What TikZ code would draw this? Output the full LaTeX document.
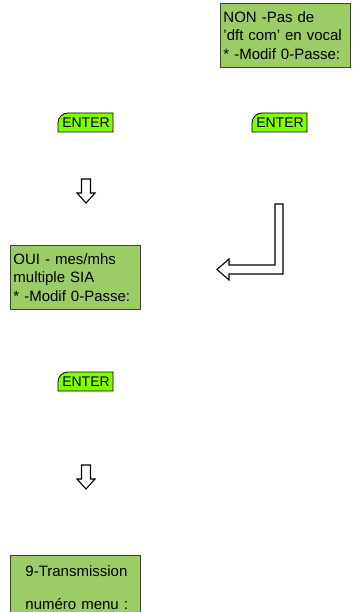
\documentclass[tikz,border=0pt]{standalone}
\usepackage{fontspec}
\setmainfont{Liberation Sans}
\definecolor{lcdgreen}{RGB}{155,204,102}
\definecolor{keygreen}{RGB}{128,255,0}
\tikzset{
  screen/.style={draw=black!75,fill=lcdgreen,line width=0.9pt,anchor=north west,
    minimum width=130pt,minimum height=64pt,text width=124pt,inner sep=3pt,
    align=left,font=\fontsize{15}{18.5}\selectfont},
  keybox/.style={draw=black,fill=keygreen,line width=0.8pt},
  keytext/.style={font=\fontsize{14}{14}\selectfont,inner sep=0pt},
  hollow/.style={draw=black,line width=1.1pt,fill=white,line join=miter}
}
\begin{document}
\begin{tikzpicture}[x=1pt,y=-1pt]
\useasboundingbox (0,0) rectangle (354,612);
% screens
\node[screen] (non) at (220,3) {NON -Pas de\\'dft com' en vocal\\{*} -Modif 0-Passe:};
\node[screen] (oui) at (10,245) {OUI - mes/mhs\\multiple SIA\\{*} -Modif 0-Passe:};
\node[screen] (transm) at (10,555) {\hspace*{12pt}9-Transmission\\[14pt]\hspace*{12pt}num\'ero menu :};
% enter keys
\draw[keybox] (58,132) [rounded corners=10pt]-- (58,113) [sharp corners]-- (113,113) -- (113,132) -- cycle;
\node[keytext] (enterA) at (86,122.5) {ENTER};
\draw[keybox] (252,132) [rounded corners=10pt]-- (252,113) [sharp corners]-- (307,113) -- (307,132) -- cycle;
\node[keytext] (enterB) at (280,122.5) {ENTER};
\draw[keybox] (58,391) [rounded corners=10pt]-- (58,372) [sharp corners]-- (113,372) -- (113,391) -- cycle;
\node[keytext] (enterC) at (86,381.5) {ENTER};
% down arrows
\foreach \y in {0,286}
  \draw[hollow,yshift=-\y pt] (81.5,179) -- (90.5,179) -- (90.5,193) -- (95,193)
    -- (86,203) -- (77,193) -- (81.5,193) -- cycle;
% return arrow
\draw[hollow] (275,204) -- (283,204) -- (283,274) -- (229,274) -- (229,280)
  -- (217,269.5) -- (229,259) -- (229,265) -- (275,265) -- cycle;
\end{tikzpicture}
\end{document}
